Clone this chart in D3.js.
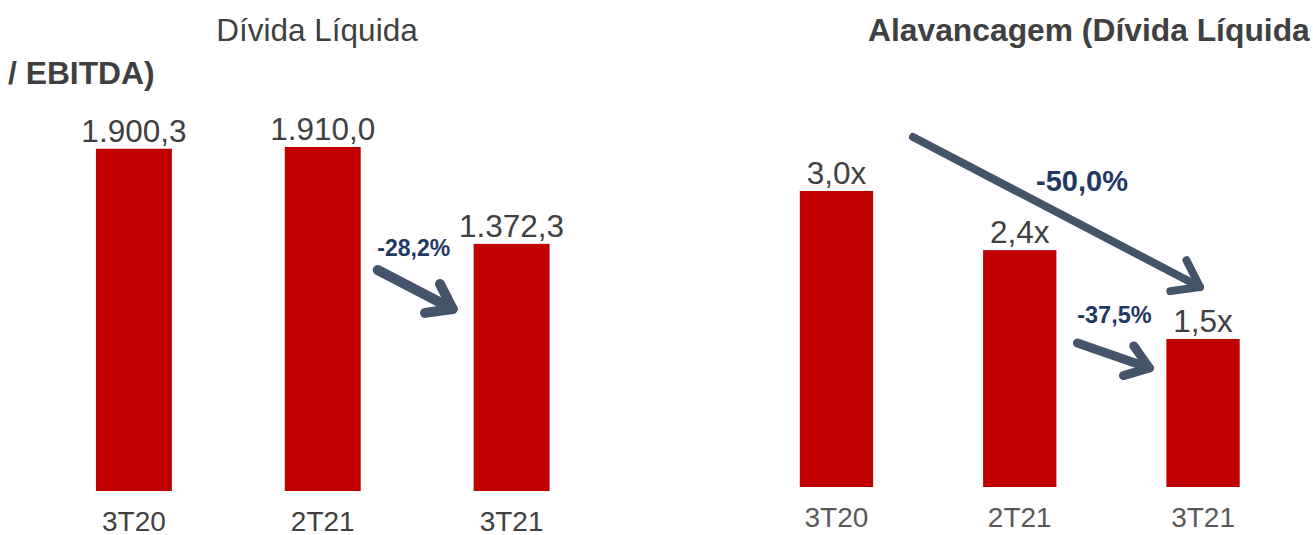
<!DOCTYPE html>
<html><head><meta charset="utf-8">
<script src="https://cdn.jsdelivr.net/npm/d3@7"></script>
<style>
html,body{margin:0;padding:0;background:#fff;}
svg{display:block;font-family:Arial,"Liberation Sans",sans-serif;}
</style></head>
<body>
<svg id="c" width="1313" height="535"></svg>
<script>
const categories = ["3T20", "2T21", "3T21"];
const dividaLiquida = [1900.3, 1910.0, 1372.3];
const dividaLabels = ["1.900,3", "1.910,0", "1.372,3"];
const alavancagem = [3.0, 2.4, 1.5];
const alavancagemLabels = ["3,0x", "2,4x", "1,5x"];
const changeLabels = ["-28,2%", "-37,5%", "-50,0%"];
const titleLeft = "Dívida Líquida";
const titleRight1 = "Alavancagem (Dívida Líquida";
const titleRight2 = "/ EBITDA)";

const svg = d3.select("#c");
const RED = "#C00000", TXT = "#404040", ARROW = "#44546A", NAVY = "#1F3864";

// left chart scales
const xL = d3.scaleBand().domain(categories).range([39.5, 606]).paddingInner(0.598).paddingOuter(0.299);
const yL = d3.scaleLinear().domain([0, 2000]).range([491, 130.8]);
// right chart scales
const xR = d3.scaleBand().domain(categories).range([744.8, 1294.7]).paddingInner(0.6).paddingOuter(0.3);
const yR = d3.scaleLinear().domain([0, 3.2]).range([487, 171.2]);

function drawBars(g, x, y, vals, labels, labColor) {
  g.selectAll("rect.bar").data(vals).join("rect")
    .attr("x", (d,i)=>x(categories[i])).attr("width", x.bandwidth())
    .attr("y", d=>y(d)).attr("height", d=>y(0)-y(d)).attr("fill", RED);
  g.selectAll("text.val").data(vals).join("text")
    .attr("x", (d,i)=>x(categories[i])+x.bandwidth()/2).attr("y", d=>y(d)-7)
    .attr("text-anchor","middle").attr("font-size",31.5).attr("fill",TXT)
    .text((d,i)=>labels[i]);
  const ax = d3.axisBottom(x).tickSize(0).tickPadding(0);
  const a = g.append("g").attr("transform",`translate(0,${y(0)+40})`).call(ax);
  a.select(".domain").remove();
  a.selectAll("text").attr("font-size",28).attr("fill",labColor)
    .attr("font-family","Arial,'Liberation Sans',sans-serif").attr("dy",0);
}

const gL = svg.append("g");
drawBars(gL, xL, yL, dividaLiquida, dividaLabels, "#404040");
const gR = svg.append("g");
drawBars(gR, xR, yR, alavancagem, alavancagemLabels, "#595959");

// titles
svg.append("text").attr("x",317).attr("y",41).attr("text-anchor","middle")
  .attr("font-size",31.5).attr("fill",TXT).text(titleLeft);
svg.append("text").attr("x",868).attr("y",41)
  .attr("font-size",31.8).attr("font-weight","bold").attr("fill",TXT).text(titleRight1);
svg.append("text").attr("x",8).attr("y",84)
  .attr("font-size",31.8).attr("font-weight","bold").attr("fill",TXT).text(titleRight2);

// arrows
function arrow(x1,y1,x2,y2,w,head){
  const g = svg.append("g").attr("stroke",ARROW).attr("fill","none")
    .attr("stroke-linecap","round").attr("stroke-linejoin","round");
  g.append("line").attr("x1",x1).attr("y1",y1).attr("x2",x2).attr("y2",y2).attr("stroke-width",w);
  const ang = Math.atan2(y2-y1,x2-x1);
  const a1 = ang + Math.PI - 0.62, a2 = ang + Math.PI + 0.62;
  g.append("polyline").attr("stroke-width",w)
    .attr("points",[[x2+head*Math.cos(a1),y2+head*Math.sin(a1)],[x2,y2],[x2+head*Math.cos(a2),y2+head*Math.sin(a2)]].map(p=>p.join(",")).join(" "));
}
// left arrow between 2T21 and 3T21
const lx = xL("2T21")+xL.bandwidth();
arrow(lx+17, 270, lx+92, 309, 10, 28);
svg.append("text").attr("x",lx+53).attr("y",256).attr("text-anchor","middle")
  .attr("font-size",23).attr("font-weight","bold").attr("fill",NAVY).text(changeLabels[0]);
// right small arrow
const rx = xR("2T21")+xR.bandwidth();
arrow(rx+21, 343, rx+93, 368, 9, 27);
svg.append("text").attr("x",rx+58).attr("y",323).attr("text-anchor","middle")
  .attr("font-size",23.5).attr("font-weight","bold").attr("fill",NAVY).text(changeLabels[1]);
// right big arrow
arrow(913, 137, 1200, 287, 8, 30);
svg.append("text").attr("x",1082).attr("y",191).attr("text-anchor","middle")
  .attr("font-size",29).attr("font-weight","bold").attr("fill",NAVY).text(changeLabels[2]);
</script>
</body></html>
